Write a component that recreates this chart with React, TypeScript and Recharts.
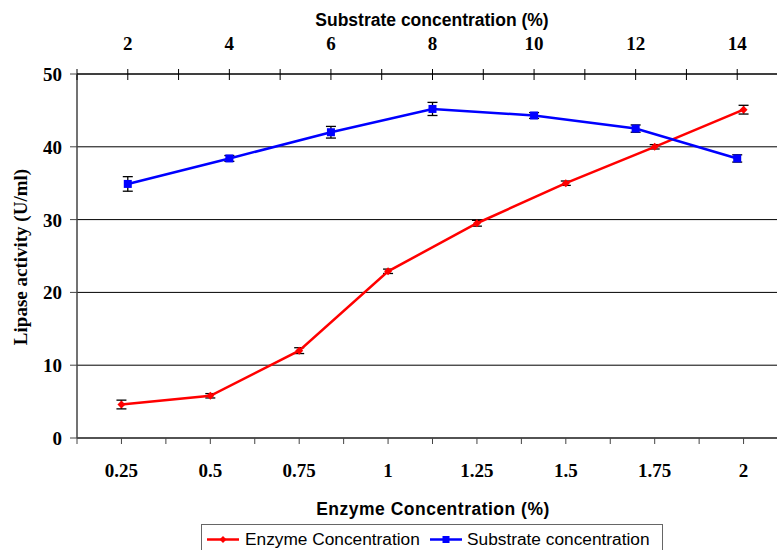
import React from "react";
import { LineChart, Line, XAxis, YAxis, CartesianGrid, ErrorBar } from "recharts";

// bottom axis: enzyme concentration (%)
const enzymeConc = [0.25, 0.5, 0.75, 1, 1.25, 1.5, 1.75, 2];
const enzymeActivity = [4.6, 5.8, 12.0, 22.9, 29.5, 35.0, 40.0, 45.1];
const enzymeErr = [0.6, 0.3, 0.4, 0.3, 0.4, 0.3, 0.3, 0.6];

// top axis: substrate concentration (%)
const substrateConc = [2, 4, 6, 8, 10, 12, 14];
const substrateActivity = [34.9, 38.4, 42.0, 45.2, 44.3, 42.5, 38.4];
const substrateErr = [1.0, 0.4, 0.8, 0.9, 0.4, 0.5, 0.5];

const yTicks = [0, 10, 20, 30, 40, 50];

const enzymeData = enzymeConc.map((x, i) => ({
  x,
  y: enzymeActivity[i],
  err: enzymeErr[i],
}));
const substrateData = substrateConc.map((x, i) => ({
  x,
  y: substrateActivity[i],
  err: substrateErr[i],
}));

// ticks sit on each category and halfway between them
const enzymeTicks = enzymeConc.flatMap((c) => [c - 0.125, c]).concat(2.125);
const substrateTicks = substrateConc.flatMap((c) => [c - 1, c]).concat(15);

const serif: React.CSSProperties = {
  fontFamily: "'Liberation Serif', 'Times New Roman', serif",
  fontWeight: "bold",
  fontSize: 19,
};
const sans = "'Liberation Sans', Arial, sans-serif";

function BottomTick(p: any) {
  const { x, y, payload } = p;
  const v = payload.value;
  return (
    <g>
      <line x1={x} x2={x} y1={y} y2={y + 6} stroke="#444" />
      {enzymeConc.includes(v) && (
        <text x={x} y={y + 39} textAnchor="middle" style={serif} fill="#000">
          {String(v)}
        </text>
      )}
    </g>
  );
}

function TopTick(p: any) {
  const { x, y, payload } = p;
  const v = payload.value;
  return (
    <g>
      <line x1={x} x2={x} y1={y - 5} y2={y + 6} stroke="#000" />
      {substrateConc.includes(v) && (
        <text x={x} y={y - 24} textAnchor="middle" style={serif} fill="#000">
          {String(v)}
        </text>
      )}
    </g>
  );
}

function LeftTick(p: any) {
  const { x, y, payload } = p;
  return (
    <g>
      <line x1={x - 7} x2={x} y1={y} y2={y} stroke="#444" />
      <text x={x - 15} y={y + 7} textAnchor="end" style={serif} fill="#000">
        {String(payload.value)}
      </text>
    </g>
  );
}

function RedDot(p: any) {
  const { cx, cy, index } = p;
  if (cx == null || cy == null) return <g key={`r${index}`} />;
  return (
    <polygon
      key={`r${index}`}
      points={`${cx},${cy - 4} ${cx + 4},${cy} ${cx},${cy + 4} ${cx - 4},${cy}`}
      fill="#ff0000"
    />
  );
}

function BlueDot(p: any) {
  const { cx, cy, index } = p;
  if (cx == null || cy == null) return <g key={`b${index}`} />;
  return <rect key={`b${index}`} x={cx - 4} y={cy - 4} width={8} height={8} fill="#0000ff" />;
}

export default function App() {
  return (
    <div
      style={{
        position: "absolute",
        left: 0,
        top: 0,
        width: 777,
        height: 550,
        overflow: "hidden",
        background: "#fff",
      }}
    >
      <LineChart
        width={800}
        height={550}
        margin={{ top: 34, right: 12, bottom: 72, left: 17 }}
      >
        <CartesianGrid xAxisId="enz" vertical={false} stroke="#000" strokeWidth={1} />
        <XAxis
          xAxisId="enz"
          type="number"
          dataKey="x"
          domain={[0.125, 2.125]}
          ticks={enzymeTicks}
          interval={0}
          height={40}
          tickSize={0}
          tickMargin={0}
          tick={<BottomTick />}
          axisLine={{ stroke: "#444", strokeWidth: 1.5 }}
          tickLine={false}
        />
        <XAxis
          xAxisId="sub"
          orientation="top"
          type="number"
          dataKey="x"
          domain={[1, 15]}
          ticks={substrateTicks}
          interval={0}
          height={40}
          tickSize={0}
          tickMargin={0}
          tick={<TopTick />}
          axisLine={{ stroke: "#000" }}
          tickLine={false}
        />
        <YAxis
          type="number"
          domain={[0, 50]}
          ticks={yTicks}
          interval={0}
          width={60}
          tickSize={0}
          tickMargin={0}
          tick={<LeftTick />}
          axisLine={{ stroke: "#444", strokeWidth: 1.5 }}
          tickLine={false}
        />
        <Line
          xAxisId="enz"
          data={enzymeData}
          dataKey="y"
          name="Enzyme Concentration"
          stroke="#ff0000"
          strokeWidth={2.5}
          dot={RedDot}
          activeDot={false}
          isAnimationActive={false}
        >
          <ErrorBar dataKey="err" direction="y" width={5} stroke="#000" strokeWidth={1.3} isAnimationActive={false} />
        </Line>
        <Line
          xAxisId="sub"
          data={substrateData}
          dataKey="y"
          name="Substrate concentration"
          stroke="#0000ff"
          strokeWidth={2.5}
          dot={BlueDot}
          activeDot={false}
          isAnimationActive={false}
        >
          <ErrorBar dataKey="err" direction="y" width={5} stroke="#000" strokeWidth={1.3} isAnimationActive={false} />
        </Line>
      </LineChart>

      {/* titles and legend */}
      <svg
        width={777}
        height={550}
        style={{ position: "absolute", left: 0, top: 0, pointerEvents: "none" }}
      >
        <text x={432} y={26} textAnchor="middle" fontFamily={sans} fontWeight="bold" fontSize={17.5}>
          Substrate concentration (%)
        </text>
        <text
          x={433}
          y={515}
          textAnchor="middle"
          fontFamily={sans}
          fontWeight="bold"
          fontSize={17.5}
          letterSpacing={0.5}
        >
          Enzyme Concentration (%)
        </text>
        <text
          x={27}
          y={257}
          textAnchor="middle"
          transform="rotate(-90, 27, 257)"
          style={serif}
        >
          Lipase activity (U/ml)
        </text>

        <rect x={201.5} y={524.5} width={461} height={40} fill="#fff" stroke="#666" />
        <line x1={207} x2={239} y1={539.5} y2={539.5} stroke="#ff0000" strokeWidth={2.5} />
        <polygon points="223,536 226.5,539.5 223,543 219.5,539.5" fill="#ff0000" />
        <text x={245} y={545} fontFamily={sans} fontSize={17.3}>
          Enzyme Concentration
        </text>
        <line x1={430} x2={462} y1={539.5} y2={539.5} stroke="#0000ff" strokeWidth={2.5} />
        <rect x={442.5} y={536} width={7} height={7} fill="#0000ff" />
        <text x={467} y={545} fontFamily={sans} fontSize={17.3}>
          Substrate concentration
        </text>
      </svg>
    </div>
  );
}
